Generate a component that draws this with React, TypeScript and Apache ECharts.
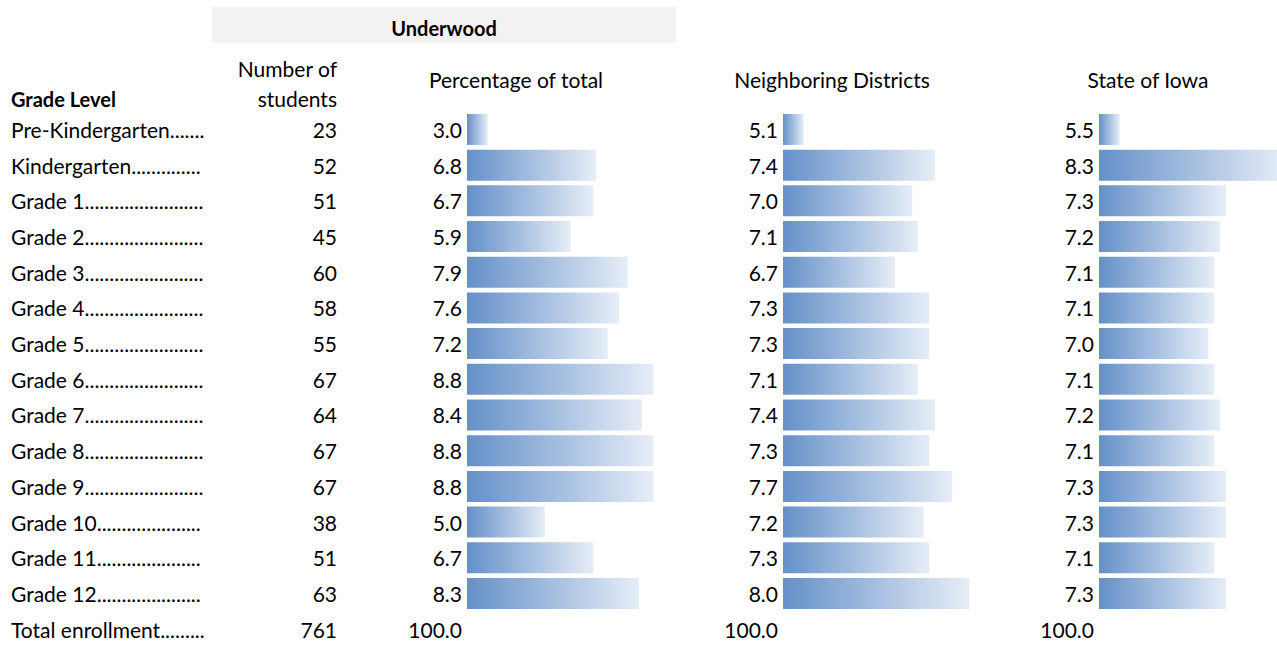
import React, { useEffect, useRef } from "react";
import * as echarts from "echarts";

const gradeLabels = [
  "Pre-Kindergarten", "Kindergarten", "Grade 1", "Grade 2", "Grade 3", "Grade 4", "Grade 5",
  "Grade 6", "Grade 7", "Grade 8", "Grade 9", "Grade 10", "Grade 11", "Grade 12",
];
const totalLabel = "Total enrollment";
const students = [23, 52, 51, 45, 60, 58, 55, 67, 64, 67, 67, 38, 51, 63];
const totalStudents = 761;
const underwoodPct = [3.0, 6.8, 6.7, 5.9, 7.9, 7.6, 7.2, 8.8, 8.4, 8.8, 8.8, 5.0, 6.7, 8.3];
const neighboringPct = [5.1, 7.4, 7.0, 7.1, 6.7, 7.3, 7.3, 7.1, 7.4, 7.3, 7.7, 7.2, 7.3, 8.0];
const iowaPct = [5.5, 8.3, 7.3, 7.2, 7.1, 7.1, 7.0, 7.1, 7.2, 7.1, 7.3, 7.3, 7.1, 7.3];
const totalPct = "100.0";
const columnTitles = ["Percentage of total", "Neighboring Districts", "State of Iowa"];

const FONT = "Lato";
const FS = 21;
const TEXT = "#000000";

export default function App() {
  const ref = useRef<HTMLDivElement>(null);
  useEffect(() => {
    if (!ref.current) return;
    const chart = echarts.init(ref.current, null, { renderer: "svg" });
    const categories = [...gradeLabels, totalLabel];
    const cols = [underwoodPct, neighboringPct, iowaPct];
    const gridLefts = [467, 783, 1099];
    const W = 207;
    const top = 111.6;
    const rowH = 35.7;
    const height = rowH * categories.length;

    const grids = gridLefts.map((l) => ({ left: l, top, width: W, height }));
    const xAxes = cols.map((d, i) => {
      const mn = Math.min(...d);
      const mx = Math.max(...d);
      const pad = (mx - mn) / 8;
      return {
        type: "value", gridIndex: i, min: mn - pad, max: mx + pad, show: false,
      };
    });
    const baseY = {
      type: "category", data: categories, inverse: true, position: "left",
      axisLine: { show: false }, axisTick: { show: false }, splitLine: { show: false },
    };
    const yAxes: any[] = [
      {
        ...baseY, gridIndex: 0,
        axisLabel: {
          interval: 0, align: "left", margin: 467 - 11, color: TEXT, fontFamily: FONT, fontSize: FS,
          width: 195, overflow: "truncate", ellipsis: "",
          formatter: (v: string) => v + ".".repeat(60),
        },
      },
      {
        ...baseY, gridIndex: 0,
        axisLabel: {
          interval: 0, align: "right", margin: 467 - 337, color: TEXT, fontFamily: FONT, fontSize: FS,
          formatter: (_v: string, idx: number) => String(idx < students.length ? students[idx] : totalStudents),
        },
      },
    ];
    cols.forEach((_d, i) => {
      yAxes.push({
        ...baseY, gridIndex: i,
        axisLabel: {
          interval: 0, align: "right", margin: 5, color: TEXT, fontFamily: FONT, fontSize: FS,
          formatter: (_v: string, idx: number) => (idx === gradeLabels.length ? totalPct : ""),
        },
      });
    });
    const yIndexForGrid = [2, 3, 4];
    const series = cols.map((d, i) => ({
      type: "bar", xAxisIndex: i, yAxisIndex: yIndexForGrid[i],
      data: d, barWidth: 31, clip: true,
      itemStyle: {
        color: new echarts.graphic.LinearGradient(0, 0, 1, 0, [
          { offset: 0, color: "#6590C8" },
          { offset: 1, color: "#E6EDF7" },
        ]),
      },
      label: {
        show: true, position: "left", distance: 5, color: TEXT, fontFamily: FONT, fontSize: FS,
        formatter: (p: any) => Number(p.value).toFixed(1),
      },
    }));

    const graphics: any[] = [
      { type: "rect", shape: { x: 212, y: 7, width: 464, height: 36 }, style: { fill: "#F2F2F2" } },
      { type: "text", x: 444, y: 28, style: { text: "Underwood", fontFamily: FONT, fontSize: FS - 1, fontWeight: "bold", fill: TEXT, align: "center", verticalAlign: "middle" } },
      { type: "text", x: 337, y: 68, style: { text: "Number of", fontFamily: FONT, fontSize: FS, fill: TEXT, align: "right", verticalAlign: "middle" } },
      { type: "text", x: 337, y: 98, style: { text: "students", fontFamily: FONT, fontSize: FS, fill: TEXT, align: "right", verticalAlign: "middle" } },
      { type: "text", x: 11, y: 99, style: { text: "Grade Level", fontFamily: FONT, fontSize: FS - 1, fontWeight: "bold", fill: TEXT, align: "left", verticalAlign: "middle" } },
      ...columnTitles.map((t, i) => ({
        type: "text", x: [516, 832, 1148][i], y: 79,
        style: { text: t, fontFamily: FONT, fontSize: FS, fill: TEXT, align: "center", verticalAlign: "middle" },
      })),
    ];

    chart.setOption({
      animation: false,
      backgroundColor: "#FFFFFF",
      grid: grids,
      xAxis: xAxes,
      yAxis: yAxes,
      series,
      graphic: graphics,
    });
    return () => chart.dispose();
  }, []);
  return (
    <div style={{ position: "absolute", left: 0, top: 0, width: 1277, height: 647, overflow: "hidden" }}>
      <div ref={ref} style={{ width: 1330, height: 647 }} />
    </div>
  );
}
